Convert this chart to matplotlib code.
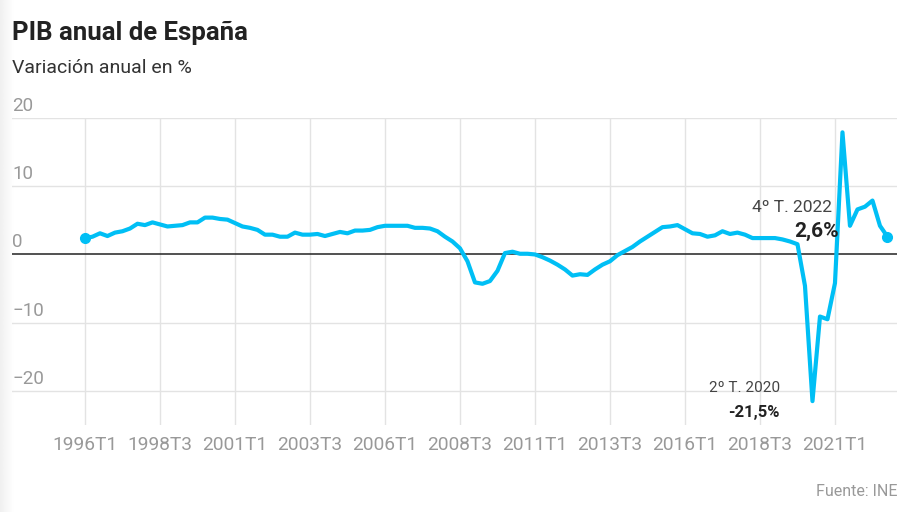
import numpy as np
import matplotlib.pyplot as plt

plt.rcParams['font.family'] = ['Roboto', 'DejaVu Sans']

# Variación anual del PIB (%), trimestral 1996T1 - 2022T4
pib = [2.4, 2.6, 3.1, 2.7, 3.2, 3.4, 3.8, 4.5, 4.3, 4.7,
       4.4, 4.1, 4.2, 4.3, 4.7, 4.7, 5.4, 5.4, 5.2, 5.1,
       4.6, 4.1, 3.9, 3.6, 2.9, 2.9, 2.6, 2.6, 3.2, 2.9,
       2.9, 3.0, 2.7, 3.0, 3.3, 3.1, 3.5, 3.5, 3.6, 4.0,
       4.2, 4.2, 4.2, 4.2, 3.9, 3.9, 3.8, 3.4, 2.6, 1.9,
       0.9, -1.0, -4.1, -4.3, -3.9, -2.4, 0.2, 0.4, 0.1, 0.1,
       0.0, -0.4, -0.9, -1.5, -2.2, -3.1, -2.9, -3.0, -2.2, -1.5,
       -1.0, -0.1, 0.5, 1.1, 1.9, 2.6, 3.3, 4.0, 4.1, 4.3,
       3.7, 3.1, 3.0, 2.6, 2.8, 3.4, 3.0, 3.2, 2.9, 2.4,
       2.4, 2.4, 2.4, 2.2, 1.9, 1.5, -4.6, -21.5, -9.1, -9.5,
       -4.2, 17.9, 4.2, 6.6, 7.0, 7.9, 4.2, 2.6]
years = range(1996, 2023)
periodos = [f'{y}T{q}' for y in years for q in range(1, 5)]

xtick_labels = periodos[::10]
ytick_vals = [20, 10, 0, -10, -20]

x = np.arange(len(pib))

fig = plt.figure(figsize=(9.15, 5.12), dpi=100)

# light shade on the left edge
shade = fig.add_axes([0, 0, 14 / 915, 1], zorder=-1)
grad = np.linspace(0.94, 1.0, 50).reshape(1, -1)
shade.imshow(grad, cmap='gray', vmin=0, vmax=1, aspect='auto',
             extent=[0, 1, 0, 1])
shade.axis('off')

ax = fig.add_axes([12 / 915, 1 - 425 / 512, 885 / 915, 307 / 512])
ax.set_xlim(-9.73, 108.27)
ax.set_ylim(-25, 20)
ax.patch.set_alpha(0)

# grid
for v in ytick_vals:
    if v == 0:
        ax.axhline(0, color='#222222', lw=1.1, zorder=2)
    else:
        ax.axhline(v, color='#e3e3e3', lw=1, zorder=0)
    lab = str(v).replace('-', '\u2212')
    ax.text(0, v + 0.45, lab, transform=ax.get_yaxis_transform(),
            ha='left', va='bottom', fontsize=13.5, color='#999999')
for t in x[::10]:
    ax.axvline(t, color='#e3e3e3', lw=1, zorder=0)

ax.set_xticks(x[::10])
ax.set_xticklabels(xtick_labels, fontsize=13.8, color='#999999')
ax.tick_params(axis='x', length=0, pad=8)
ax.set_yticks([])
for s in ax.spines.values():
    s.set_visible(False)

color = '#00bff5'
ax.plot(x, pib, color=color, lw=3.0, solid_joinstyle='round',
        solid_capstyle='round', zorder=3)
ax.plot([x[0], x[-1]], [pib[0], pib[-1]], 'o', color=color, ms=7, zorder=4)

# annotations
i_last = len(pib) - 1
i_min = int(np.argmin(pib))
ax.annotate('4º T. 2022', xy=(x[i_last], pib[i_last]), xytext=(831.7, 512 - 208),
            textcoords='figure pixels', ha='right', va='center',
            fontsize=12.5, color='#444444')
ax.annotate(f'{pib[i_last]:.1f}%'.replace('.', ','), xy=(x[i_last], pib[i_last]),
            xytext=(839, 512 - 231), textcoords='figure pixels', ha='right',
            va='center', fontsize=15, fontweight='bold', color='#222222')
ax.annotate('2º T. 2020', xy=(x[i_min], pib[i_min]), xytext=(780, 512 - 388),
            textcoords='figure pixels', ha='right', va='center',
            fontsize=11, color='#444444')
ax.annotate(f'{pib[i_min]:.1f}%'.replace('.', ','), xy=(x[i_min], pib[i_min]),
            xytext=(780, 512 - 412), textcoords='figure pixels', ha='right',
            va='center', fontsize=12, fontweight='bold', color='#222222')

fig.text(12 / 915, 1 - 33 / 512, 'PIB anual de España', fontsize=18.5,
         fontweight='bold', color='#222222', ha='left', va='center')
fig.text(12 / 915, 1 - 68 / 512, 'Variación anual en %', fontsize=14,
         color='#333333', ha='left', va='center')
fig.text(898 / 915, 1 - 492 / 512, 'Fuente: INE', fontsize=11.5,
         color='#999999', ha='right', va='center')

fig.savefig('out.png', dpi=100)
